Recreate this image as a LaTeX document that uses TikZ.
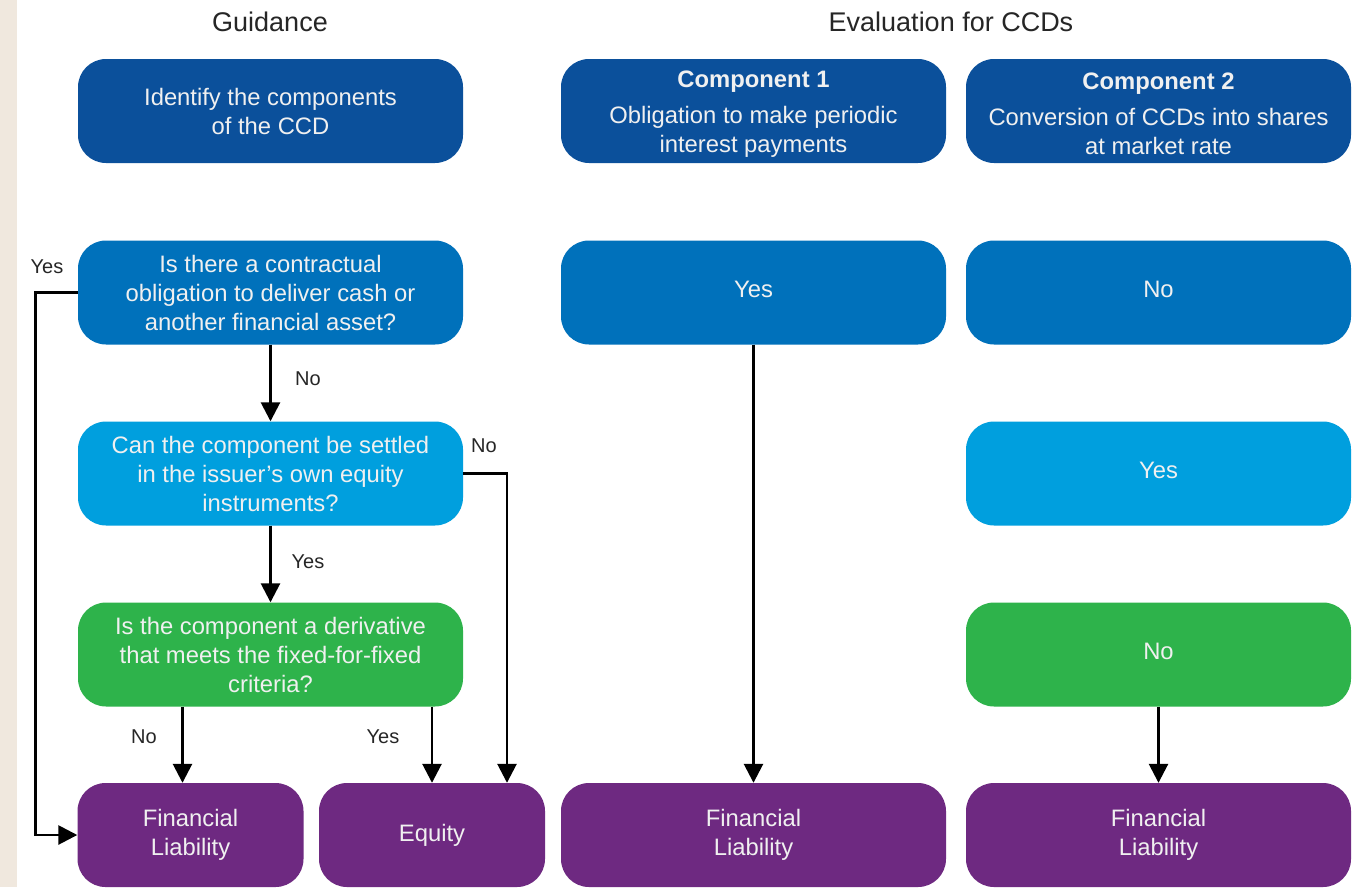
\documentclass[tikz,border=0pt]{standalone}
\usepackage{fontspec}
\setmainfont{Liberation Sans}
\usetikzlibrary{arrows.meta}
\definecolor{rowA}{RGB}{11,80,155}
\definecolor{rowB}{RGB}{0,113,187}
\definecolor{rowC}{RGB}{0,159,222}
\definecolor{rowD}{RGB}{46,179,75}
\definecolor{rowE}{RGB}{110,41,129}
\definecolor{strip}{RGB}{240,232,222}
\tikzset{
  flowbox/.style={rounded corners=28pt, minimum height=104pt, inner sep=0pt,
    text=white!94!black, align=center, font=\fontsize{23.8}{29}\selectfont},
  wide/.style={flowbox, minimum width=385pt},
  narrow/.style={flowbox, minimum width=226pt},
  head/.style={font=\fontsize{27}{32}\selectfont, text=black!85},
  lbl/.style={font=\fontsize{20}{24}\selectfont, text=black!85, inner sep=0pt},
  boxtext/.style={font=\fontsize{23.8}{29}\selectfont, text=white!94!black, align=center, inner sep=0pt},
  arr/.style={line width=2.7pt, -{Triangle[length=19pt,width=19pt]}},
}
\begin{document}
\begin{tikzpicture}[x=1pt,y=-1pt]
\useasboundingbox (0,0) rectangle (1358,887);
\fill[white] (0,0) rectangle (1358,887);
\fill[strip] (0,0) rectangle (17,887);
% headers
\node[head] (hg) at (270,22) {Guidance};
\node[head] (he) at (951,22) {Evaluation for CCDs};
% guidance column
\node[wide, fill=rowA] (g1) at (270.5,111) {Identify the components\\of the CCD};
\node[wide, fill=rowB] (g2) at (270.5,292.5) {Is there a contractual\\obligation to deliver cash or\\another financial asset?};
\node[wide, fill=rowC] (g3) at (270.5,473.5) {Can the component be settled\\in the issuer’s own equity\\instruments?};
\node[wide, fill=rowD] (g4) at (270.5,654.5) {Is the component a derivative\\that meets the fixed-for-fixed\\criteria?};
\node[narrow, fill=rowE] (g5a) at (190.5,835) {Financial\\Liability};
\node[narrow, fill=rowE] (g5b) at (432,835) {Equity};
% component 1
\node[wide, fill=rowA] (c1a) at (753.5,111) {};
\node[boxtext] (c1t) at (753.5,114) {\textbf{Component 1}\\[7pt]Obligation to make periodic\\interest payments};
\node[wide, fill=rowB] (c1b) at (753.5,292.5) {};
\node[boxtext] (c1bt) at (753.5,289) {Yes};
\node[wide, fill=rowE] (c1e) at (753.5,835) {Financial\\Liability};
% component 2
\node[wide, fill=rowA] (c2a) at (1158.5,111) {};
\node[boxtext] (c2t) at (1158.5,114) {\textbf{Component 2}\\[7pt]Conversion of CCDs into shares\\at market rate};
\node[wide, fill=rowB] (c2b) at (1158.5,292.5) {};
\node[boxtext] (c2bt) at (1158.5,289) {No};
\node[wide, fill=rowC] (c2c) at (1158.5,473.5) {};
\node[boxtext] (c2ct) at (1158.5,470) {Yes};
\node[wide, fill=rowD] (c2d) at (1158.5,654.5) {};
\node[boxtext] (c2dt) at (1158.5,651) {No};
\node[wide, fill=rowE] (c2e) at (1158.5,835) {Financial\\Liability};
% connectors
\draw[arr] (g2.west) -- ++(-42,0) |- (g5a.west);
\node[lbl] (lyes1) at (47,267) {Yes};
\draw[arr] (g2.south) -- (g3.north);
\node[lbl] (lno1) at (308,379) {No};
\draw[arr] (g3.south) -- (g4.north);
\node[lbl] (lyes2) at (308,562) {Yes};
\draw[arr] (g3.east) -| ([xshift=75pt]g5b.north);
\node[lbl] (lno2) at (484,446) {No};
\coordinate (g4l) at ([xshift=-88pt]g4.south);
\draw[arr] (g4l) -- (g4l |- g5a.north);
\node[lbl] (lno3) at (144,737) {No};
\draw[arr] (g5b.north |- g4.south) -- (g5b.north);
\node[lbl] (lyes3) at (383,737) {Yes};
\draw[arr] (c1b.south) -- (c1e.north);
\draw[arr] (c2d.south) -- (c2e.north);
\end{tikzpicture}
\end{document}
